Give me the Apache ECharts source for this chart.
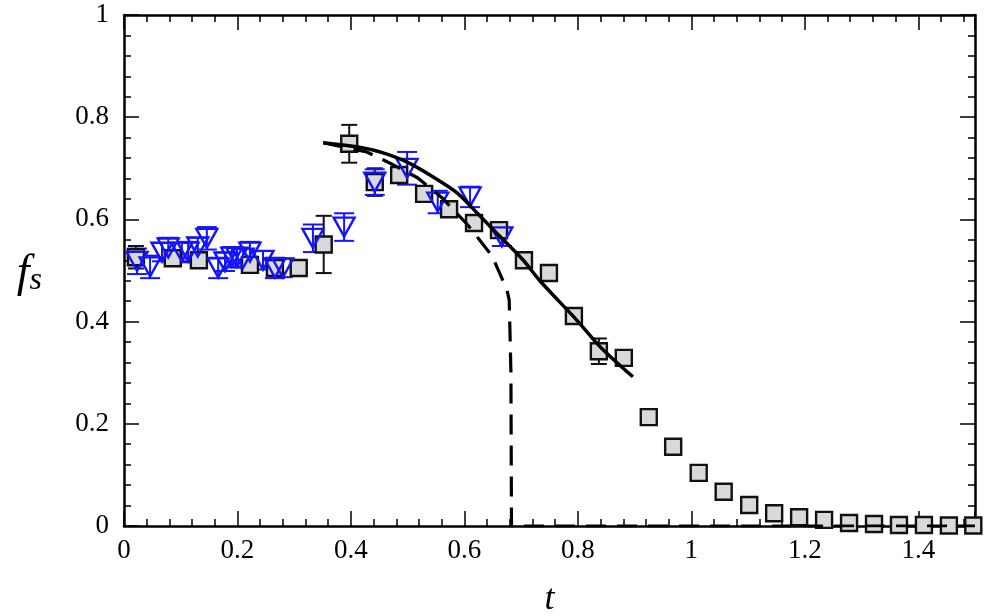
<!DOCTYPE html>
<html><head><meta charset="utf-8">
<script src="https://cdn.jsdelivr.net/npm/echarts@6/dist/echarts.min.js"></script>
<style>html,body{margin:0;padding:0;background:#fff}#c{width:985px;height:616px}</style>
</head><body><div id="c"></div>
<script>
// Squares (gray) data
const sqT   = [0.021,0.086,0.132,0.222,0.266,0.308,0.352,0.397,0.442,0.485,0.529,0.573,0.617,0.661,0.705,0.749,0.793,0.837,0.881,0.925,0.968,1.013,1.057,1.102,1.146,1.190,1.234,1.278,1.322,1.366,1.410,1.454,1.497];
const sqF   = [0.526,0.524,0.520,0.511,0.505,0.505,0.551,0.748,0.673,0.687,0.650,0.620,0.593,0.579,0.520,0.495,0.411,0.342,0.329,0.213,0.155,0.104,0.067,0.041,0.025,0.017,0.012,0.006,0.004,0.002,0.002,0.001,0.001];
const sqErr = [0.022,0.010,0.012,0.010,0.015,0.012,0.056,0.037,0.027,0.012,0.010,0.012,0.012,0.010,0.012,0.008,0.012,0.025,0,0,0,0,0,0,0,0,0,0,0,0,0,0,0];
// Triangles (blue) data
const triT   = [0.023,0.046,0.067,0.078,0.102,0.113,0.130,0.146,0.166,0.178,0.190,0.199,0.210,0.222,0.245,0.266,0.280,0.333,0.388,0.442,0.499,0.553,0.610,0.666];
const triF   = [0.518,0.507,0.536,0.544,0.536,0.536,0.546,0.563,0.505,0.517,0.526,0.526,0.524,0.536,0.520,0.505,0.505,0.563,0.585,0.673,0.700,0.634,0.644,0.566];
const triErr = [0.025,0.022,0.018,0.020,0.018,0.020,0.018,0.022,0.020,0.018,0.020,0.018,0.018,0.020,0.018,0.020,0.018,0.027,0.027,0.025,0.032,0.022,0.020,0.018];
// Model curves
const solidT = [0.351,0.410,0.451,0.499,0.545,0.587,0.622,0.657,0.703,0.733,0.798,0.840,0.897];
const solidF = [0.750,0.742,0.732,0.712,0.683,0.652,0.613,0.573,0.521,0.480,0.403,0.350,0.292];
const dashT  = [0.351,0.428,0.469,0.518,0.561,0.606,0.649,0.675,0.679,0.682,0.683,1.500];
const dashF  = [0.750,0.732,0.710,0.681,0.642,0.589,0.528,0.462,0.442,0.300,0.000,0.000];
// Tick labels
const xTicks = [0,0.2,0.4,0.6,0.8,1,1.2,1.4];
const yTicks = [0,0.2,0.4,0.6,0.8,1];

const font = 'Liberation Serif';
function errSeries(T,F,E,color,capW){
  return {
    type:'custom', z:3,
    data: T.map((t,i)=>[t, F[i]-E[i], F[i]+E[i], E[i]]),
    encode:{x:0,y:[1,2]},
    renderItem:(params,api)=>{
      if(api.value(3)<=0) return null;
      const x=api.value(0);
      const lo=api.coord([x,api.value(1)]), hi=api.coord([x,api.value(2)]);
      const st={stroke:color,lineWidth:2};
      return {type:'group',children:[
        {type:'line',shape:{x1:lo[0],y1:lo[1],x2:hi[0],y2:hi[1]},style:st},
        {type:'line',shape:{x1:lo[0]-capW,y1:lo[1],x2:lo[0]+capW,y2:lo[1]},style:st},
        {type:'line',shape:{x1:hi[0]-capW,y1:hi[1],x2:hi[0]+capW,y2:hi[1]},style:st}
      ]};
    }
  };
}
const axisCommon = {
  axisLine:{show:true,onZero:false,lineStyle:{color:'#000',width:2.5}},
  axisTick:{show:true,inside:true,length:15,lineStyle:{color:'#000',width:1.5}},
  minorTick:{show:true,splitNumber:5,length:7,lineStyle:{color:'#000',width:1.5}},
  splitLine:{show:false}
};
const chart = echarts.init(document.getElementById('c'));
chart.setOption({
  animation:false,
  backgroundColor:'#fff',
  grid:{left:124,top:15,right:10,bottom:90,containLabel:false,outerBoundsMode:'none'},
  xAxis:[
    Object.assign({type:'value',min:0,max:1.5,interval:0.2,position:'bottom',
      axisLabel:{fontFamily:font,fontSize:27,color:'#000',margin:11,
        formatter:v=>xTicks.some(t=>Math.abs(t-v)<1e-9)?String(+v.toFixed(1)):''},
      name:'t',nameLocation:'middle',nameGap:56,
      nameTextStyle:{fontFamily:font,fontStyle:'italic',fontSize:36,color:'#000'}},axisCommon),
    Object.assign({type:'value',min:0,max:1.5,interval:0.2,position:'top',axisLabel:{show:false}},axisCommon)
  ],
  yAxis:[
    Object.assign({type:'value',min:0,max:1,interval:0.2,position:'left',
      axisLabel:{fontFamily:font,fontSize:27,color:'#000',margin:15,
        formatter:v=>yTicks.some(t=>Math.abs(t-v)<1e-9)?String(+v.toFixed(1)):''},
      name:'{f|f}{s|s}',nameLocation:'middle',nameGap:82,nameRotate:0,
      nameTextStyle:{rich:{
        f:{fontFamily:font,fontStyle:'italic',fontSize:46,color:'#000',verticalAlign:'bottom'},
        s:{fontFamily:font,fontStyle:'italic',fontSize:32,color:'#000',padding:[20,0,0,0],verticalAlign:'bottom'}
      }}},axisCommon),
    Object.assign({type:'value',min:0,max:1,interval:0.2,position:'right',axisLabel:{show:false}},axisCommon)
  ],
  series:[
    errSeries(sqT,sqF,sqErr,'#111',8),
    {type:'scatter',z:4,symbol:'rect',symbolSize:16,
      itemStyle:{color:'#d9d9d9',borderColor:'#111',borderWidth:2.4,opacity:1},
      data:sqT.map((t,i)=>[t,sqF[i]])},
    errSeries(triT,triF,triErr,'#1414ff',10),
    {type:'scatter',z:5,symbol:'triangle',symbolRotate:180,symbolSize:[21,19],
      itemStyle:{color:'rgba(255,255,255,0)',borderColor:'#1414ff',borderWidth:2.4,opacity:1},
      data:triT.map((t,i)=>[t,triF[i]])},
    {type:'line',z:6,showSymbol:false,smooth:0.3,
      lineStyle:{color:'#000',width:3.5},
      data:solidT.map((t,i)=>[t,solidF[i]])},
    {type:'line',z:6,showSymbol:false,smooth:false,
      lineStyle:{color:'#000',width:3.2,type:[20,11]},
      data:dashT.map((t,i)=>[t,dashF[i]])}
  ]
});
</script></body></html>
